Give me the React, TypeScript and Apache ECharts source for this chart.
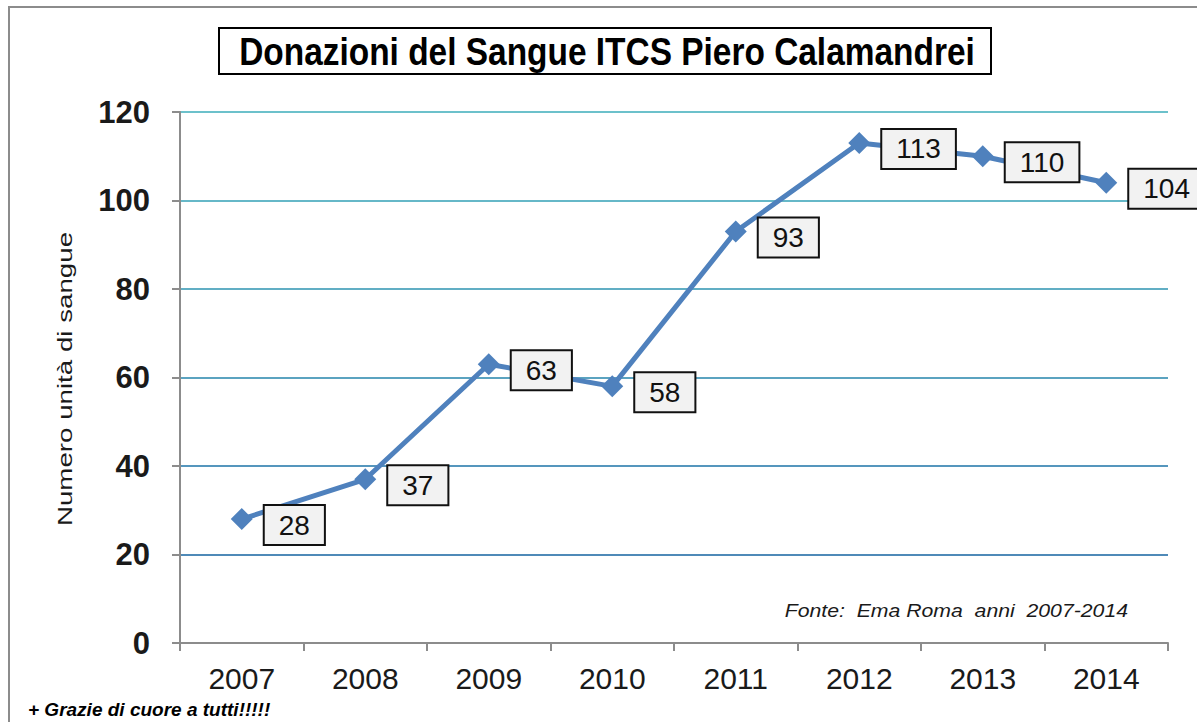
import React, { useEffect, useRef } from "react";
import * as echarts from "echarts";

const years = ["2007", "2008", "2009", "2010", "2011", "2012", "2013", "2014"];
const donations = [28, 37, 63, 58, 93, 113, 110, 104];
const titleText = "Donazioni del Sangue ITCS Piero Calamandrei";
const yAxisName = "Numero unità di sangue";
const sourceText = "Fonte:  Ema Roma  anni  2007-2014";
const footerText = "+ Grazie di cuore a tutti!!!!!";
const gridColors = ["#4a7fb5", "#4f8ab8", "#5596bd", "#5ba3c0", "#61aec4", "#66b8c8", "#6cc1cb"];

export default function App() {
  const ref = useRef<HTMLDivElement>(null);
  useEffect(() => {
    if (!ref.current) return;
    const chart = echarts.init(ref.current, undefined, { renderer: "svg" });
    chart.setOption({
      animation: false,
      backgroundColor: "#ffffff",
      grid: { left: 180, right: 29, top: 112, bottom: 79, containLabel: false },
      graphic: [
        {
          type: "rect",
          shape: { x: 9, y: 7, width: 1200, height: 730 },
          style: { fill: "none", stroke: "#8c8c8c", lineWidth: 2 },
          z: 0,
        },
        {
          type: "rect",
          shape: { x: 219, y: 28, width: 772, height: 46 },
          style: { fill: "#ffffff", stroke: "#000000", lineWidth: 2 },
          z: 10,
        },
        {
          type: "text",
          x: 607,
          y: 52,
          scaleX: 0.88,
          style: {
            text: titleText,
            fill: "#000000",
            font: "bold 38px 'Liberation Sans Narrow', 'Liberation Sans', Arial, sans-serif",
            align: "center",
            verticalAlign: "middle",
          },
          z: 11,
        },
        {
          type: "text",
          x: 65,
          y: 379,
          rotation: Math.PI / 2,
          scaleX: 1.32,
          style: {
            text: yAxisName,
            fill: "#1a1a1a",
            font: "21px 'Liberation Sans', Arial, sans-serif",
            align: "center",
            verticalAlign: "middle",
          },
          z: 11,
        },
        {
          type: "text",
          x: 1128,
          y: 611,
          scaleX: 1.18,
          style: {
            text: sourceText,
            fill: "#1a1a1a",
            font: "italic 18px 'Liberation Sans', Arial, sans-serif",
            align: "right",
            verticalAlign: "middle",
          },
          z: 11,
        },
        {
          type: "text",
          x: 28,
          y: 700,
          style: {
            text: footerText,
            fill: "#000000",
            font: "italic bold 19px 'Liberation Sans', Arial, sans-serif",
            align: "left",
            verticalAlign: "top",
          },
          z: 11,
        },
      ],
      xAxis: {
        type: "category",
        data: years,
        boundaryGap: true,
        axisLine: { show: true, lineStyle: { color: "#8c8c8c", width: 2 } },
        axisTick: { show: true, length: 8, lineStyle: { color: "#8c8c8c", width: 2 } },
        axisLabel: {
          color: "#1a1a1a",
          fontSize: 30,
          fontFamily: "'Liberation Sans', Arial, sans-serif",
          margin: 20,
        },
        splitLine: { show: false },
      },
      yAxis: {
        type: "value",
        min: 0,
        max: 120,
        interval: 20,
        axisLine: { show: true, lineStyle: { color: "#8c8c8c", width: 2 } },
        axisTick: { show: true, length: 8, lineStyle: { color: "#8c8c8c", width: 2 } },
        axisLabel: {
          color: "#1a1a1a",
          fontSize: 31,
          fontWeight: "bold",
          fontFamily: "'Liberation Sans', Arial, sans-serif",
          margin: 30,
        },
        splitLine: { show: true, lineStyle: { color: gridColors, width: 2 } },
      },
      series: [
        {
          type: "line",
          data: donations,
          symbol: "diamond",
          symbolSize: 22,
          itemStyle: { color: "#4f81bd" },
          lineStyle: { color: "#4f81bd", width: 5 },
          z: 5,
          label: {
            show: true,
            position: "right",
            distance: 12,
            offset: [0, 6],
            color: "#111111",
            fontSize: 28,
            fontFamily: "'Liberation Sans', Arial, sans-serif",
            backgroundColor: "#f2f2f2",
            borderColor: "#111111",
            borderWidth: 2,
            padding: [6, 14, 4, 14],
          },
        },
      ],
    });
    return () => chart.dispose();
  }, []);
  return (
    <div
      ref={ref}
      style={{ position: "fixed", left: 0, top: 0, width: 1197, height: 722 }}
    />
  );
}
